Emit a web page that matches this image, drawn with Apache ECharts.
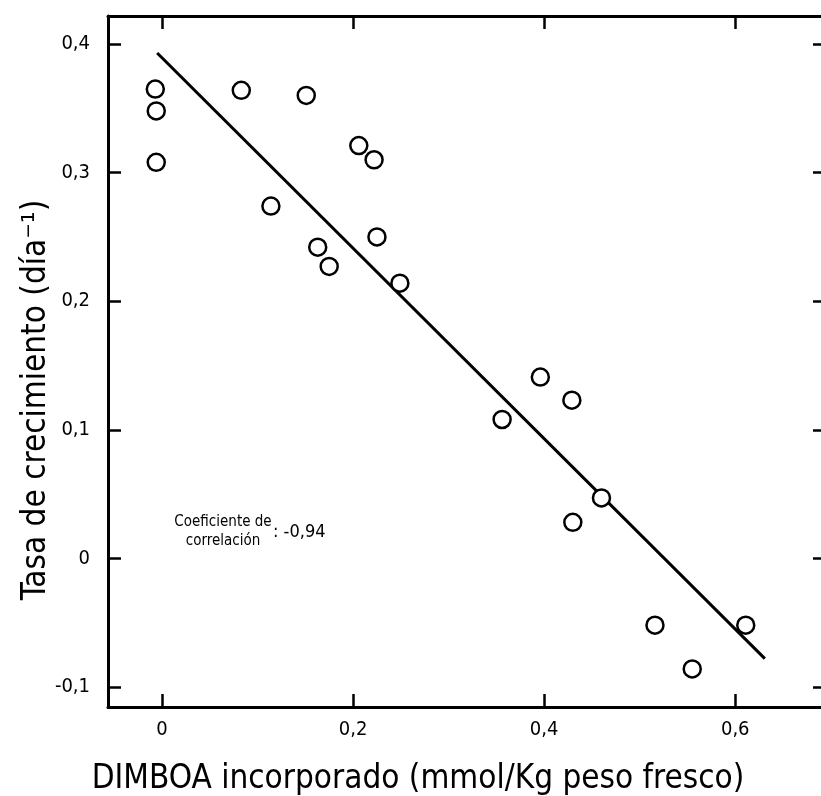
<!DOCTYPE html>
<html>
<head>
<meta charset="utf-8">
<script src="https://cdn.jsdelivr.net/npm/echarts@6/dist/echarts.min.js"></script>
<style>
html,body{margin:0;padding:0;background:#fff;}
#c{width:821px;height:796px;}
</style>
</head>
<body>
<div id="c"></div>
<script>
// ---- data ----
const xTicks = [0, 0.2, 0.4, 0.6];
const yTicks = [-0.1, 0, 0.1, 0.2, 0.3, 0.4];
const dimboa = [-0.007, -0.006, -0.006, 0.083, 0.151, 0.206, 0.222, 0.114, 0.163, 0.175, 0.225, 0.249, 0.356, 0.396, 0.429, 0.460, 0.430, 0.516, 0.555, 0.611];
const tasa   = [0.365, 0.348, 0.308, 0.364, 0.360, 0.321, 0.310, 0.274, 0.242, 0.227, 0.250, 0.214, 0.108, 0.141, 0.123, 0.047, 0.028, -0.052, -0.086, -0.052];
const fitX = [-0.005, 0.631];
const fitY = [0.393, -0.078];
const xTitle = 'DIMBOA incorporado (mmol/Kg peso fresco)';
const yTitle = 'Tasa de crecimiento (día⁻¹)';
const noteLine1 = 'Coeficiente de';
const noteLine2 = 'correlación';
const noteValue = ': -0,94';

const fmt = v => (Math.abs(v) < 1e-9 ? '0' : String(v).replace('.', ','));
const FAM = '"DejaVu Sans Condensed", "DejaVu Sans", sans-serif';

const chart = echarts.init(document.getElementById('c'), null, {renderer: 'canvas'});
const lineStyle = {color: '#000', width: 3};
const tickStyle = {color: '#000', width: 2.5};

const option = {
  animation: false,
  backgroundColor: '#fff',
  grid: {left: 108, top: 16, right: -5, bottom: 89, outerBoundsMode: 'none', containLabel: false},
  xAxis: [{
    type: 'value', min: -0.0565, max: 0.695, position: 'bottom',
    axisLine: {show: true, onZero: false, lineStyle: lineStyle},
    axisTick: {show: true, inside: true, length: 13, lineStyle: tickStyle, customValues: xTicks},
    axisLabel: {show: true, customValues: xTicks, formatter: fmt, margin: 13,
      color: '#000', fontFamily: FAM, fontSize: 20},
    splitLine: {show: false}
  }, {
    type: 'value', min: -0.0565, max: 0.695, position: 'top',
    axisLine: {show: true, onZero: false, lineStyle: lineStyle},
    axisTick: {show: true, inside: true, length: 13, lineStyle: tickStyle, customValues: xTicks},
    axisLabel: {show: false},
    splitLine: {show: false}
  }],
  yAxis: [{
    type: 'value', min: -0.1156, max: 0.4218, position: 'left',
    axisLine: {show: true, onZero: false, lineStyle: lineStyle},
    axisTick: {show: true, inside: true, length: 13, lineStyle: tickStyle, customValues: yTicks},
    axisLabel: {show: true, customValues: yTicks, formatter: fmt, margin: 18,
      color: '#000', fontFamily: FAM, fontSize: 20},
    splitLine: {show: false}
  }, {
    type: 'value', min: -0.1156, max: 0.4218, position: 'right',
    axisLine: {show: true, onZero: false, lineStyle: lineStyle},
    axisTick: {show: true, inside: true, length: 13, lineStyle: tickStyle, customValues: yTicks},
    axisLabel: {show: false},
    splitLine: {show: false}
  }],
  series: [{
    type: 'line',
    data: fitX.map((x, i) => [x, fitY[i]]),
    symbol: 'none',
    lineStyle: {color: '#000', width: 3},
    silent: true, z: 2
  }, {
    type: 'scatter',
    data: dimboa.map((x, i) => [x, tasa[i]]),
    symbol: 'circle', symbolSize: 17,
    itemStyle: {color: '#fff', borderColor: '#000', borderWidth: 2.5, opacity: 1},
    z: 3
  }],
  graphic: [{
    type: 'text', x: 418, y: 779,
    style: {text: xTitle, font: '33px ' + FAM, fill: '#000', align: 'center', verticalAlign: 'middle'}
  }, {
    type: 'text', x: 36, y: 400, rotation: Math.PI / 2,
    style: {text: yTitle, font: '33px ' + FAM, fill: '#000', align: 'center', verticalAlign: 'middle'}
  }, {
    type: 'text', x: 223, y: 522,
    style: {text: noteLine1, font: '15px ' + FAM, fill: '#000', align: 'center', verticalAlign: 'middle'}
  }, {
    type: 'text', x: 223, y: 541,
    style: {text: noteLine2, font: '15px ' + FAM, fill: '#000', align: 'center', verticalAlign: 'middle'}
  }, {
    type: 'text', x: 273, y: 532,
    style: {text: noteValue, font: '18px ' + FAM, fill: '#000', align: 'left', verticalAlign: 'middle'}
  }]
};
chart.setOption(option);
</script>
</body>
</html>
